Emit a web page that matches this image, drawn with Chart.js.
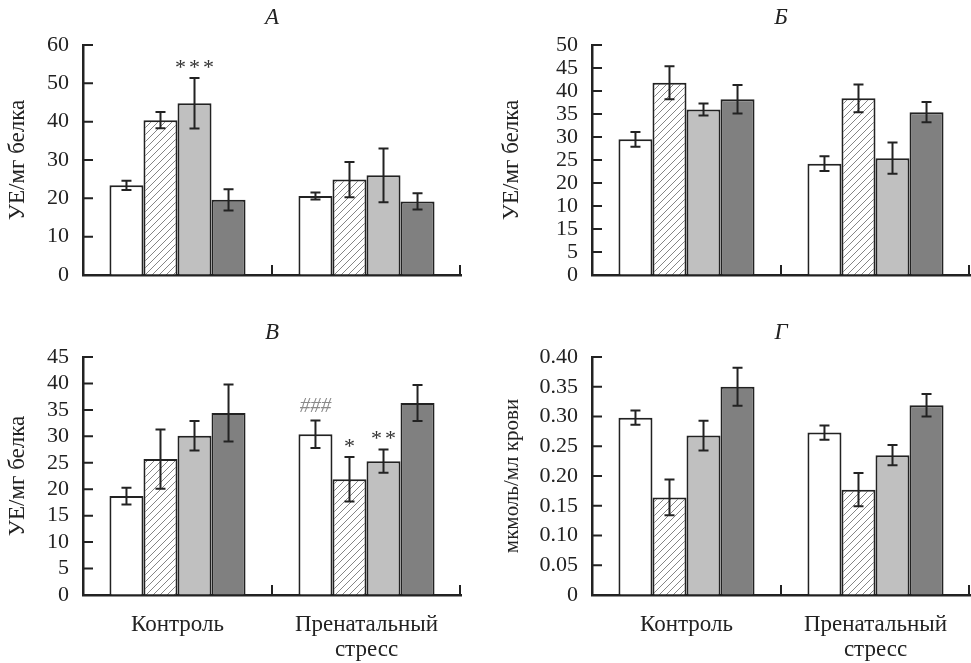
<!DOCTYPE html>
<html>
<head>
<meta charset="utf-8">
<script src="https://cdn.jsdelivr.net/npm/chart.js@4.4.1/dist/chart.umd.min.js"></script>
<style>
  html, body { margin: 0; padding: 0; background: #fff; }
  #wrap { position: relative; width: 971px; height: 663px; overflow: hidden; }
  .panel { position: absolute; }
</style>
</head>
<body>
<div id="wrap">
  <div class="panel" style="left:0;top:0"><canvas id="chartA" width="485" height="300"></canvas></div>
  <div class="panel" style="left:485px;top:0"><canvas id="chartB" width="486" height="300"></canvas></div>
  <div class="panel" style="left:0;top:300px"><canvas id="chartC" width="485" height="363"></canvas></div>
  <div class="panel" style="left:485px;top:300px"><canvas id="chartD" width="486" height="363"></canvas></div>
</div>
<script>
// groups on the x axis
const groups = ['Контроль', ['Пренатальный', 'стресс']];

// each row = one bar style (white, hatched, light gray, dark gray), [control, prenatal stress]
const valuesA = [[23.4, 20.6], [40.4, 24.9], [44.8, 26.0], [19.6, 19.2]];
const errorsA = [[1.2, 0.9], [2.1, 4.6], [6.6, 7.0], [2.8, 2.1]];
const marksA = [['', ''], ['', ''], ['***', ''], ['', '']];
const ticksA = ['0', '10', '20', '30', '40', '50', '60'];

const valuesB = [[29.5, 24.2], [41.8, 38.4], [36.0, 25.4], [38.2, 35.4]];
const errorsB = [[1.6, 1.6], [3.6, 3.0], [1.3, 3.4], [3.1, 2.2]];
const marksB = [['', ''], ['', ''], ['', ''], ['', '']];
const ticksB = ['0', '5', '15', '10', '20', '25', '30', '35', '40', '45', '50'];

const valuesC = [[18.7, 30.4], [25.7, 21.9], [30.1, 25.3], [34.4, 36.3]];
const errorsC = [[1.6, 2.6], [5.6, 4.2], [2.8, 2.2], [5.4, 3.4]];
const marksC = [['', '###'], ['', '*'], ['', '**'], ['', '']];
const ticksC = ['0', '5', '10', '15', '20', '25', '30', '35', '40', '45'];

const valuesD = [[0.298, 0.273], [0.164, 0.177], [0.268, 0.235], [0.350, 0.319]];
const errorsD = [[0.012, 0.012], [0.030, 0.028], [0.025, 0.017], [0.032, 0.019]];
const marksD = [['', ''], ['', ''], ['', ''], ['', '']];
const ticksD = ['0', '0.05', '0.10', '0.15', '0.20', '0.25', '0.30', '0.35', '0.40'];

const serif = "'Liberation Serif', 'DejaVu Serif', serif";
const ink = '#222';
Chart.defaults.font.family = serif;
Chart.defaults.color = ink;

function makeHatch() {
  const c = document.createElement('canvas');
  c.width = 7; c.height = 7;
  const g = c.getContext('2d');
  g.fillStyle = '#fff';
  g.fillRect(0, 0, 7, 7);
  g.strokeStyle = '#666';
  g.lineWidth = 0.8;
  g.beginPath();
  g.moveTo(0, 7); g.lineTo(7, 0);
  g.moveTo(-1, 1); g.lineTo(1, -1);
  g.moveTo(6, 8); g.lineTo(8, 6);
  g.stroke();
  return g.createPattern(c, 'repeat');
}
const hatch = makeHatch();
const fills = ['#ffffff', hatch, '#c0c0c0', '#808080'];

// titles, inward ticks, error bars and significance marks
function makeDecor(title, titleY, values, errors, marks) {
  return {
    id: 'decor',
    afterDatasetsDraw(chart) {
      const ctx = chart.ctx;
      const y = chart.scales.y;
      ctx.save();
      ctx.strokeStyle = ink;
      ctx.lineWidth = 2;
      for (let i = 0; i < values.length; i++) {
        const meta = chart.getDatasetMeta(i);
        meta.data.forEach((bar, j) => {
          const v = values[i][j], e = errors[i][j];
          const top = y.getPixelForValue(v + e);
          const bot = y.getPixelForValue(v - e);
          ctx.beginPath();
          ctx.moveTo(bar.x, top); ctx.lineTo(bar.x, bot);
          ctx.moveTo(bar.x - 5, top); ctx.lineTo(bar.x + 5, top);
          ctx.moveTo(bar.x - 5, bot); ctx.lineTo(bar.x + 5, bot);
          ctx.stroke();
          const m = marks[i][j];
          if (m) {
            const hash = m.startsWith('#');
            ctx.font = (hash ? 'italic 21px ' : '22px ') + serif;
            ctx.letterSpacing = hash ? '0px' : '3px';
            ctx.textAlign = 'center';
            ctx.textBaseline = 'middle';
            ctx.fillStyle = hash ? '#8a8a8a' : '#333';
            ctx.fillText(m, bar.x + (hash ? 0 : 1.5), top - (hash ? 14 : 10));
          }
        });
      }
      ctx.restore();
    },
    afterDraw(chart) {
      const ctx = chart.ctx;
      const area = chart.chartArea;
      const x = chart.scales.x, y = chart.scales.y;
      ctx.save();
      ctx.strokeStyle = ink;
      ctx.lineWidth = 2;
      ctx.beginPath();
      y.ticks.forEach(t => {
        const py = y.getPixelForValue(t.value);
        ctx.moveTo(area.left, py); ctx.lineTo(area.left + 10, py);
      });
      const mid = (x.getPixelForValue(0) + x.getPixelForValue(1)) / 2;
      [mid, area.right - 1].forEach(px => {
        ctx.moveTo(px, area.bottom); ctx.lineTo(px, area.bottom - 10);
      });
      ctx.stroke();
      ctx.font = 'italic 23px ' + serif;
      ctx.fillStyle = ink;
      ctx.textAlign = 'center';
      ctx.textBaseline = 'middle';
      ctx.fillText(title, (area.left + area.right) / 2, titleY);
      ctx.restore();
    }
  };
}

function drawPanel(id, cfg) {
  const datasets = cfg.values.map((row, i) => ({
    data: row,
    backgroundColor: fills[i],
    borderColor: ink,
    borderWidth: 2,
    borderSkipped: 'start',
    categoryPercentage: 0.72,
    barPercentage: 1
  }));
  return new Chart(document.getElementById(id), {
    type: 'bar',
    data: { labels: groups, datasets },
    options: {
      responsive: false,
      devicePixelRatio: 1,
      animation: false,
      events: [],
      layout: { padding: { top: cfg.padTop, right: cfg.padRight, left: 0, bottom: 0 } },
      plugins: { legend: { display: false }, tooltip: { enabled: false } },
      scales: {
        x: {
          grid: { display: true, drawOnChartArea: false, drawTicks: false },
          border: { display: true, width: 2.5, color: ink },
          ticks: { display: cfg.showX, padding: 18, font: { size: 23, lineHeight: 1.08 }, color: ink },
          afterFit: s => { s.height = cfg.xHeight; }
        },
        y: {
          min: 0, max: cfg.max,
          ticks: {
            stepSize: cfg.step, autoSkip: false, padding: 14,
            font: { size: 22, lineHeight: 1 }, color: ink,
            callback: (v, i) => cfg.ticks[i]
          },
          grid: { display: true, drawOnChartArea: false, drawTicks: false },
          border: { display: true, width: 2.5, color: ink },
          title: {
            display: true, text: cfg.yTitle, color: ink,
            font: { size: cfg.yTitleSize }, padding: { top: cfg.yTitlePad, bottom: 0 }
          },
          afterFit: s => { s.width = cfg.yWidth; }
        }
      }
    },
    plugins: [makeDecor(cfg.title, cfg.titleY, cfg.values, cfg.errors, cfg.marks)]
  });
}

drawPanel('chartA', {
  title: 'А', titleY: 18, values: valuesA, errors: errorsA, marks: marksA, ticks: ticksA,
  max: 60, step: 10, yTitle: 'УЕ/мг белка', yTitleSize: 23, yTitlePad: 4,
  yWidth: 83, xHeight: 17, padTop: 45, padRight: 24, showX: false
});
drawPanel('chartB', {
  title: 'Б', titleY: 18, values: valuesB, errors: errorsB, marks: marksB, ticks: ticksB,
  max: 50, step: 5, yTitle: 'УЕ/мг белка', yTitleSize: 23, yTitlePad: 13,
  yWidth: 107, xHeight: 17, padTop: 45, padRight: 1, showX: false
});
drawPanel('chartC', {
  title: 'В', titleY: 33, values: valuesC, errors: errorsC, marks: marksC, ticks: ticksC,
  max: 45, step: 5, yTitle: 'УЕ/мг белка', yTitleSize: 23, yTitlePad: 4,
  yWidth: 83, xHeight: 68, padTop: 57, padRight: 24, showX: true
});
drawPanel('chartD', {
  title: 'Г', titleY: 33, values: valuesD, errors: errorsD, marks: marksD, ticks: ticksD,
  max: 0.4, step: 0.05, yTitle: 'мкмоль/мл крови', yTitleSize: 21, yTitlePad: 15,
  yWidth: 107, xHeight: 68, padTop: 57, padRight: 1, showX: true
});
</script>
</body>
</html>
